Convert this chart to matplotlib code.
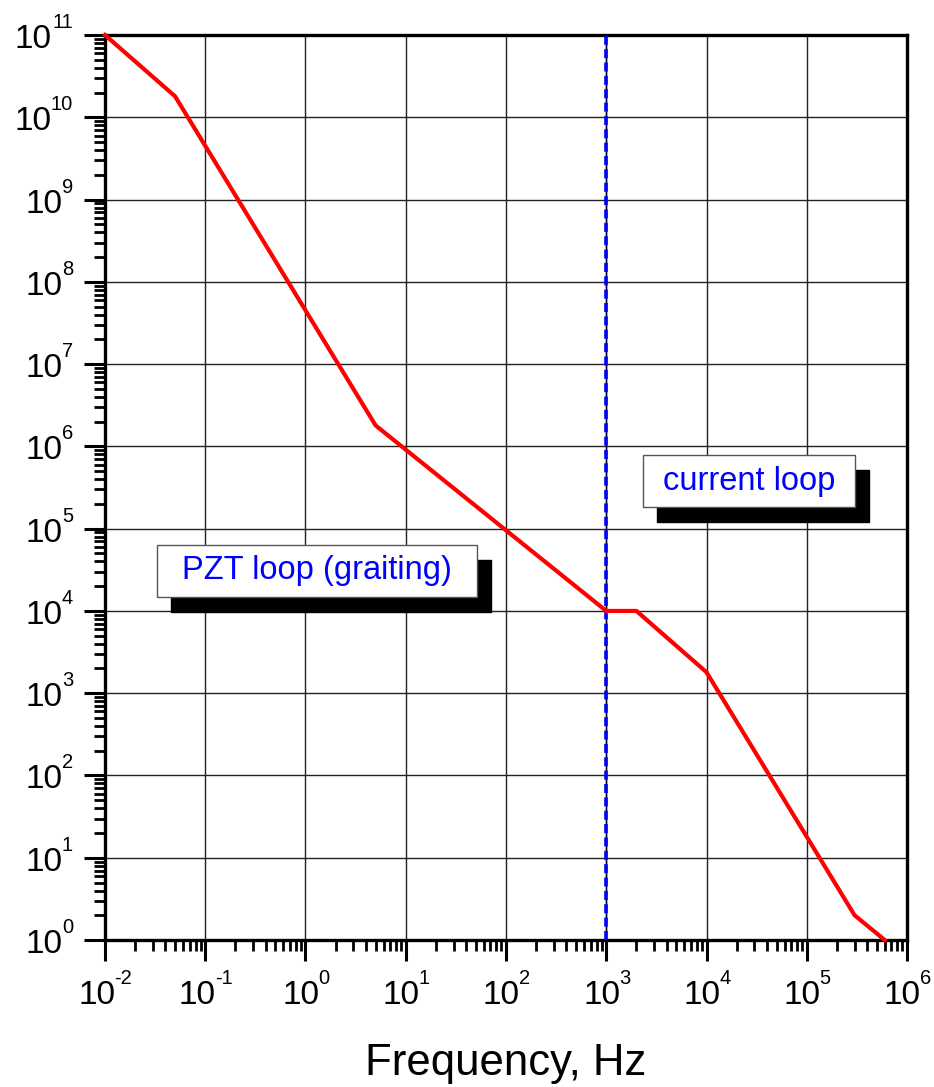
import matplotlib.pyplot as plt
from matplotlib.patches import Rectangle
from matplotlib.ticker import LogLocator, NullFormatter
import numpy as np

plt.rcParams['font.family'] = ['Liberation Sans', 'DejaVu Sans']

# loop gain vs frequency
freq = [1e-2, 0.05, 5, 1e3, 2e3, 1e4, 3e5, 6e5]
gain = [1e11, 1.8e10, 1.8e6, 1e4, 1e4, 1.8e3, 2, 1]
crossover = 1e3
x_decades = np.arange(-2, 7)
y_decades = np.arange(0, 12)

BASE_FS = 24
SUP_FS = 14.5

fig = plt.figure(figsize=(9.34, 10.87), dpi=100)
ax = fig.add_axes([0.1124, 0.1352, 0.8587, 0.8326])

ax.set_xscale('log')
ax.set_yscale('log')
ax.set_xlim(1e-2, 1e6)
ax.set_ylim(1e0, 1e11)

ax.grid(True, which='major', color='#222222', linewidth=1.0)
ax.set_axisbelow(True)

# crossover marker between the two loops
ax.axvline(crossover, color='black', linewidth=1.0, zorder=3)
ax.axvline(crossover, color='blue', linewidth=2.6, linestyle=(0, (2.5, 1.2)), zorder=3)

ax.plot(freq, gain, color='red', linewidth=3.0, zorder=4, clip_on=False)

ax.set_xticks(10.0 ** x_decades)
ax.set_yticks(10.0 ** y_decades)
ax.xaxis.set_minor_locator(LogLocator(base=10, subs=np.arange(2, 10), numticks=200))
ax.yaxis.set_minor_locator(LogLocator(base=10, subs=np.arange(2, 10), numticks=200))
ax.xaxis.set_major_formatter(NullFormatter())
ax.yaxis.set_major_formatter(NullFormatter())
ax.xaxis.set_minor_formatter(NullFormatter())
ax.yaxis.set_minor_formatter(NullFormatter())

ax.tick_params(which='major', direction='out', length=15, width=2.2)
ax.tick_params(which='minor', direction='out', length=8, width=2.0)

for side in ['left', 'right', 'top', 'bottom']:
    ax.spines[side].set_linewidth(2.4)


# "10" with a small raised exponent
def text_width(s, fs):
    em = fs * fig.dpi / 72
    return sum(0.333 if ch == '-' else 0.556 for ch in s) * em


def x_label(e):
    w = text_width(str(e), SUP_FS)
    w10 = text_width('10', BASE_FS)
    split = (w10 - w) / 2
    kw = dict(xycoords=ax.get_xaxis_transform(), textcoords='offset pixels',
              va='baseline', annotation_clip=False)
    ax.annotate('10', (10.0 ** e, 0), xytext=(split + 1, -64), ha='right',
                fontsize=BASE_FS, **kw)
    ax.annotate(str(e), (10.0 ** e, 0), xytext=(split, -44), ha='left',
                fontsize=SUP_FS, **kw)


def y_label(e):
    w = text_width(str(e), SUP_FS)
    kw = dict(xycoords=ax.get_yaxis_transform(), textcoords='offset pixels',
              va='baseline', annotation_clip=False)
    ax.annotate(str(e), (0, 10.0 ** e), xytext=(-32, 7), ha='right',
                fontsize=SUP_FS, **kw)
    ax.annotate('10', (0, 10.0 ** e), xytext=(-31 - w, -13), ha='right',
                fontsize=BASE_FS, **kw)


for e in x_decades:
    x_label(e)
for e in y_decades:
    y_label(e)

fig.text(506 / 934, 1 - 1075 / 1087, 'Frequency, Hz', fontsize=31.5,
         ha='center', va='baseline')


# labelled boxes with drop shadow
def shadow_box(x0, y0, w, h, label):
    shade = Rectangle((x0 + 0.0175, y0 - 0.0166), w, h, transform=ax.transAxes,
                      facecolor='black', edgecolor='black', zorder=5)
    box = Rectangle((x0, y0), w, h, transform=ax.transAxes,
                    facecolor='white', edgecolor='#555555', linewidth=1.0, zorder=6)
    ax.add_patch(shade)
    ax.add_patch(box)
    ax.text(x0 + w / 2, y0 + h / 2, label, transform=ax.transAxes, color='blue',
            fontsize=23.5, ha='center', va='center', zorder=7)


shadow_box(0.671, 0.478, 0.264, 0.058, 'current loop')
shadow_box(0.065, 0.379, 0.399, 0.058, 'PZT loop (graiting)')

fig.savefig('out.png', dpi=100)
